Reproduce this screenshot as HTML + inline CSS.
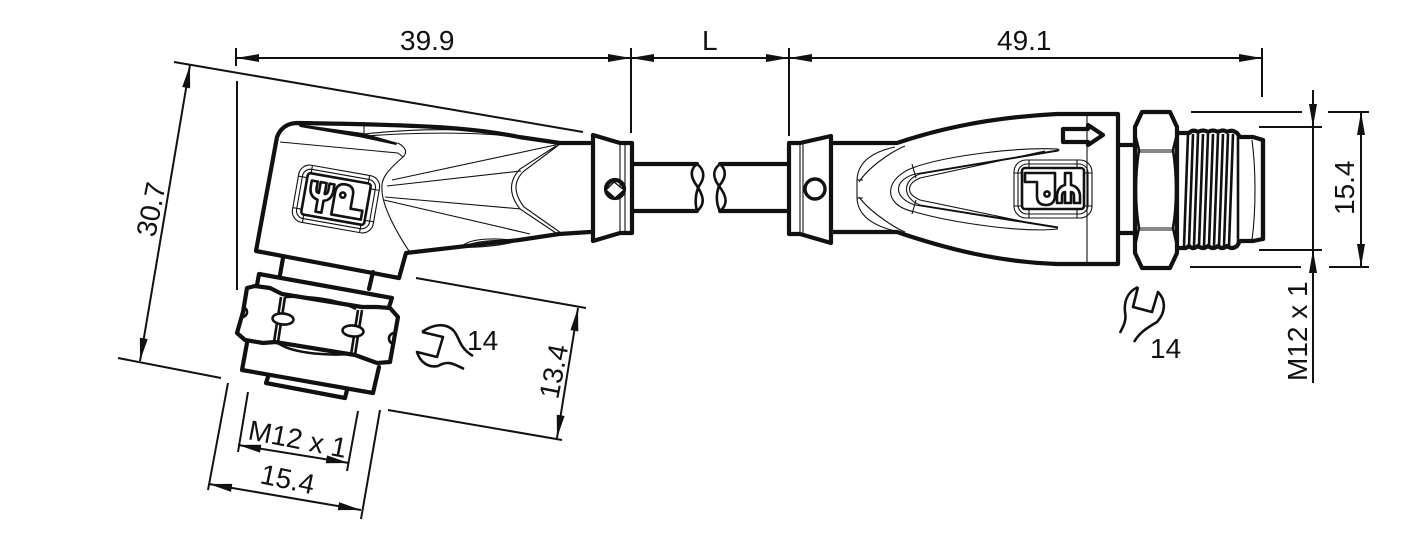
<!DOCTYPE html>
<html><head><meta charset="utf-8"><style>
html,body{margin:0;padding:0;background:#fff;width:1417px;height:543px;overflow:hidden}
svg{display:block}
text{font-family:"Liberation Sans",sans-serif;font-size:28px;fill:#111}
.d{stroke:#111;stroke-width:2;fill:none}
.a{stroke:#111;stroke-width:2;fill:none;marker-start:url(#as);marker-end:url(#ae)}
.k{stroke:#111;stroke-width:4.2;fill:none;stroke-linejoin:round;stroke-linecap:round}
.m{stroke:#111;stroke-width:2.6;fill:none;stroke-linejoin:round}
.t{stroke:#111;stroke-width:1.1;fill:none}
</style></head><body>
<svg width="1417" height="543" viewBox="0 0 1417 543" xmlns="http://www.w3.org/2000/svg">
<defs>
<marker id="ae" markerUnits="userSpaceOnUse" markerWidth="24" markerHeight="10" refX="23" refY="4" orient="auto"><path d="M0 0L23 4L0 8Z" fill="#111"/></marker>
<marker id="as" markerUnits="userSpaceOnUse" markerWidth="24" markerHeight="10" refX="0" refY="4" orient="auto"><path d="M23 0L0 4L23 8Z" fill="#111"/></marker>
</defs>
<!-- top dimensions -->
<path class="a" d="M236 58H631"/><path class="a" d="M631 58H789"/><path class="a" d="M789 58H1262"/>
<path class="d" d="M236 48V66M631 48V133M789 48V136M1262 48V97M237 81V290"/>
<text x="400" y="50">39.9</text><text x="702" y="50">L</text><text x="997" y="50">49.1</text>
<!-- 30.7 -->
<path class="d" d="M174 62L583 132M118 358L221 378"/><path class="a" d="M190 65L140 361"/>
<text transform="translate(155,238) rotate(-78.5)">30.7</text>
<!-- 13.4 -->
<path class="d" d="M416 278L586 308M388 410L562 440"/><path class="a" d="M578 308L557 438"/>
<text transform="translate(558,400) rotate(-79)">13.4</text>
<!-- bottom left -->
<path class="d" d="M228 383L208 490M380 410L361 519M248 392L238 452M358 411L347 471"/>
<path class="a" d="M209 484L361 510"/><path class="a" d="M238 445L349 463"/>
<text transform="translate(247,439) rotate(11)">M12 x 1</text>
<text transform="translate(259,483) rotate(12)">15.4</text>
<!-- left body -->
<path class="k" d="M590 143H560L519 137C480 129 440 125 296 123Q282 124 277 137L256 251L399 278L406 253L519 240L559 234L590 232"/>
<path class="k" d="M593 135L620 143H632V233H620L593 241Z"/>
<path class="t" d="M620 143V233M625 143V233"/>
<path class="k" d="M634 164H697M634 211H697M720 164H789M720 211H789" stroke-linecap="butt"/>
<path class="m" d="M697 164C689 170 691 178 697 186C703 195 706 204 697 211M697 164C705 170 705 178 699 186C695 194 695 204 697 211" stroke-width="3"/>
<path class="m" d="M720 164C712 170 713 178 719 186C726 195 729 204 720 211M720 164C727 170 726 178 719 186C716 194 716 204 720 211" stroke-width="3"/>
<circle cx="615" cy="189" r="9" class="k" stroke-width="3.4"/>
<path d="M614 182L624 190L615 198L606 190Z" fill="#fff" stroke="#111" stroke-width="1.4"/>
<path class="t" d="M280 142L398 153M398 143Q410 150 403 157C388 170 381 178 382 188C381 205 398 235 411 254M398 153L403 157"/>
<path d="M298 124L363 133L398 143L396 145L361 137.5L300 127Z" fill="#111"/>
<path class="t" d="M364 122V136M364 134C420 128 480 128 517 136M366 136C420 132 480 132 515 137M461 247C470 237 500 238 518 241C500 246 475 248 461 247ZM468 245C480 240 500 240 513 241"/>
<path class="t" d="M392 180L560 144M387 186L521 171M385 197L521 209M384 200L530 234M560 144L524 171Q508 186 524 207L561 233M556 146L520 169Q503 187 520 209L556 233"/>
<!-- left logo -->
<g transform="translate(336,199) rotate(10)">
<rect x="-41" y="-29" width="82" height="58" rx="11" class="t" stroke-width="1.4"/>
<rect x="-37" y="-25" width="74" height="50" rx="8" class="t" stroke-width="1.4"/>
<rect x="-32" y="-21" width="64" height="42" rx="3" class="m" stroke-width="1.8"/>
<path class="t" d="M-29 -29V-21M29 -29V-21M-29 21V29M29 21V29M-41 -16H-32M32 -16H41M-41 16H-32M32 16H41"/>
<g transform="rotate(180) translate(-1053,-189)">
<path class="m" stroke-width="2.2" d="M1025 173H1055V195Q1055 205 1046 205Q1037 205 1037 196V182H1025ZM1065 173H1071V185Q1080 187 1080 197V203H1074V196Q1074 192 1071 192V203H1065V192Q1062 192 1062 197V203H1057V197Q1057 187 1065 185Z"/>
<circle cx="1047" cy="194" r="2.6" class="m" stroke-width="1.8"/>
</g>
</g>
<!-- left nut -->
<path class="k" d="M283 258L280 275M373 272L369 289" stroke-width="4"/>
<path class="k" d="M257 285L259 274L392 298L389 307"/>
<path class="k" d="M247 288L255 286L270 288L282 294L362 307L377 307L390 308L398 317L390 362L377 363L355 355L275 342L263 343L245 340L237 333L243 312Z"/>
<path class="k" d="M247 343L242 370L373 393L379 367"/>
<path class="k" d="M268 377L266 383L345 398L347 390"/>
<path class="m" d="M281 297L274 342M285 297L278 342M358 310L351 355M362 310L355 355" stroke-width="1.5"/>
<path class="m" d="M285 297C305 296 335 298 356 309M278 343C290 352 320 356 352 354" stroke-width="2.2"/>
<ellipse cx="283" cy="319" rx="10.5" ry="5.5" transform="rotate(5 283 319)" fill="#fff" stroke="#111" stroke-width="2.6"/>
<ellipse cx="353" cy="331" rx="10.5" ry="5.5" transform="rotate(5 353 331)" fill="#fff" stroke="#111" stroke-width="2.6"/>
<path class="m" d="M242 307A5 5 0 0 1 242 317M395 333A5 5 0 0 0 394 344"/>
<!-- left wrench -->
<path class="m" d="M422 332C432 325 444 322 453 330C460 337 458 347 473 356M422 332L443 337L437 357L417 352C420 362 428 368 438 366C448 360 454 364 464 369" stroke-width="2"/>
<text x="467" y="350">14</text>
<!-- right collar -->
<path class="k" d="M789 143H800L831 136V243L800 234H789Z"/>
<path class="t" d="M800 143V234M803 143V234"/>
<circle cx="815" cy="189" r="10" fill="#fff" stroke="#111" stroke-width="3.4"/>
<!-- right body -->
<path class="k" d="M832 143H897C930 132 980 118 1057 114H1118V264H1057C1000 262 950 250 897 232H832"/>
<path class="t" d="M1087 114V264"/>
<path class="k" d="M1063 129H1088V125L1103 135L1088 145V142H1063Z" stroke-width="3"/>
<path class="t" d="M895 147Q858 155 857 180V198Q858 222 895 231M859 182C870 165 895 150 905 146M859 197C870 212 895 228 905 232M857 180H863M857 198H863"/>
<path class="t" d="M1058 149C1020 147 950 155 915 167C885 177 880 205 915 212C950 222 1020 233 1058 229M1058 150L915 174C893 180 893 198 915 205L1058 228M1058 149Q1060 150 1058 151L920 174C902 180 902 198 920 205L1058 227M1045 151L920 178C906 184 906 194 920 200L1045 226"/>
<path class="t" d="M912 164L916 178M912 214L916 200"/>
<!-- right logo -->
<rect x="1014" y="160" width="78" height="58" rx="12" class="t" stroke-width="1.4"/>
<rect x="1018" y="164" width="70" height="50" rx="9" class="t" stroke-width="1.4"/>
<rect x="1022" y="168" width="62" height="41" rx="3" class="m" stroke-width="2"/>
<path class="t" d="M1029 160V168M1077 160V168M1029 209V218M1077 209V218M1014 173H1022M1084 173H1092M1014 206H1022M1084 206H1092"/>
<path class="m" stroke-width="2.2" d="M1025 173H1055V195Q1055 205 1046 205Q1037 205 1037 196V182H1025ZM1065 173H1071V185Q1080 187 1080 197V203H1074V196Q1074 192 1071 192V203H1065V192Q1062 192 1062 197V203H1057V197Q1057 187 1065 185Z"/>
<circle cx="1047" cy="194" r="2.6" class="m" stroke-width="1.8"/>
<!-- right neck + nut -->
<path class="k" d="M1118 145H1136M1118 233H1136" stroke-width="3.6" stroke-linecap="butt"/>
<path class="k" d="M1142 112H1170L1177 127V253L1170 268H1142L1135 253V127Z"/>
<path class="t" d="M1139 150H1173M1139 152H1173M1139 228H1173M1139 230H1173" stroke-width="1.2"/>
<path class="m" d="M1135 134L1139 150C1135 175 1135 205 1139 228L1135 246M1177 134L1173 150C1177 175 1177 205 1173 228L1177 246" stroke-width="2"/>
<!-- thread -->
<path class="k" d="M1177 133H1189Q1193 129 1198 132Q1203 129 1208 132Q1213 129 1218 132Q1223 129 1227 132Q1232 129 1237 133L1240 137H1253L1263 140V239L1253 241H1240L1237 246Q1232 250 1227 246Q1222 250 1218 246Q1213 250 1208 246Q1203 250 1198 246Q1193 250 1189 246L1186 248H1177"/>
<path class="m" stroke-width="2.4" d="M1188 134L1184 246M1193 134L1189 246M1198 134L1194 246M1203 134L1199 246M1208 134L1204 246M1213 134L1209 246M1218 134L1214 246M1223 134L1219 246M1228 134L1224 246M1233 134L1229 246M1238 136L1238 244"/>
<path class="t" d="M1252 140C1256 170 1256 210 1252 240"/>
<path class="k" d="M1263 140V239" stroke-width="4.4"/>
<!-- right dims -->
<path class="d" d="M1191 112H1302M1328 112H1369M1190 267H1301M1329 267H1369M1259 127H1322M1259 250H1322"/>
<path class="d" d="M1313 90V383"/>
<path d="M1309 104L1313 127L1317 104Z M1309 273L1313 250L1317 273Z" fill="#111"/>
<path class="a" d="M1361 112V267"/>
<text transform="translate(1354,215) rotate(-90)">15.4</text>
<text transform="translate(1307,381) rotate(-90)">M12 x 1</text>
<!-- right wrench -->
<path class="m" d="M1138 287C1127 292 1124 302 1125 312C1127 322 1122 328 1120 333M1138 287L1133 307L1152 312L1158 292C1166 300 1166 312 1157 322C1147 328 1140 332 1134 342" stroke-width="2"/>
<text x="1150" y="358">14</text>
</svg>
</body></html>
